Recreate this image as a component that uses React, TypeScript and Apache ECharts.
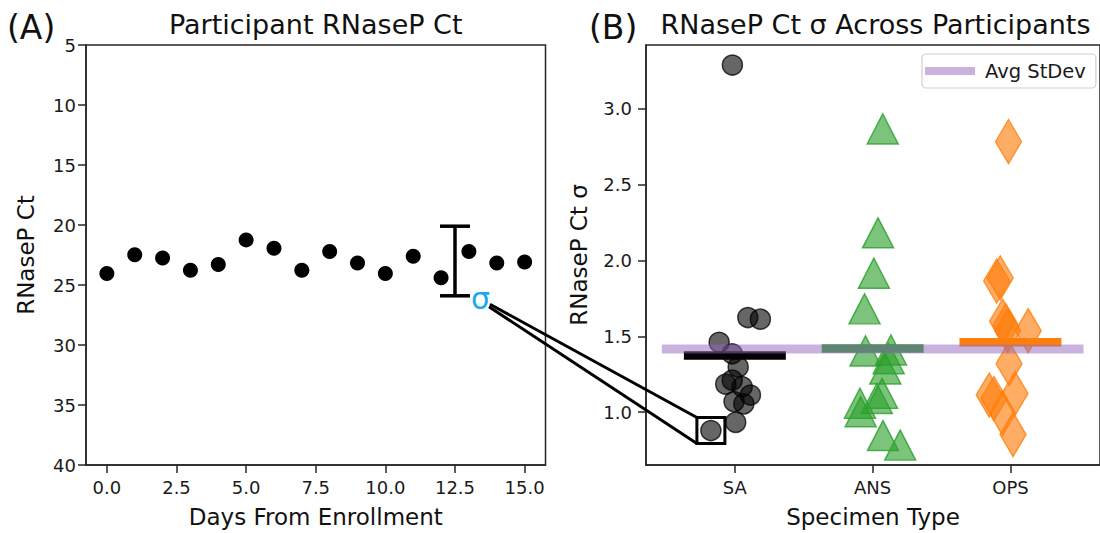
import React, { useEffect, useRef } from 'react';
import * as echarts from 'echarts';

// (A) one participant's RNaseP Ct over time
const days = [0, 1, 2, 3, 4, 5, 6, 7, 8, 9, 10, 11, 12, 13, 14, 15];
const rnasepCt = [24.05, 22.48, 22.75, 23.77, 23.3, 21.24, 21.93, 23.77, 22.2, 23.17, 24.05, 22.6, 24.4, 22.2, 23.17, 23.08];
const dayTicks = [0, 2.5, 5, 7.5, 10, 12.5, 15];
const errorBar = [12.5, 20.1, 25.9]; // day, low, high

// (B) per-participant σ by specimen type (x offsets are the jitter)
const specimenTypes = ['SA', 'ANS', 'OPS'];
const saOffsets = [-0.018, 0.094, 0.185, -0.114, -0.019, 0.024, -0.066, -0.019, 0.053, 0.113, -0.006, 0.065, 0.006, -0.174];
const saSigma = [3.288, 1.624, 1.613, 1.461, 1.385, 1.298, 1.185, 1.211, 1.168, 1.113, 1.07, 1.055, 0.933, 0.879];
const ansOffsets = [0.073, 0.039, 0.009, -0.059, -0.052, 0.133, 0.116, 0.092, 0.068, 0.03, -0.092, -0.087, 0.075, 0.2];
const ansSigma = [2.867, 2.182, 1.916, 1.681, 1.404, 1.41, 1.352, 1.285, 1.124, 1.09, 1.059, 1.003, 0.846, 0.783];
const opsOffsets = [-0.014, -0.1, -0.074, -0.057, -0.034, -0.02, 0.129, -0.01, -0.154, -0.12, 0.033, -0.057, 0.019];
const opsSigma = [2.783, 1.864, 1.885, 1.6, 1.57, 1.537, 1.537, 1.32, 1.113, 1.09, 1.124, 0.993, 0.853];
const specimenMeans = [1.373, 1.42, 1.461];
const avgStDev = 1.417;
const sigmaTicks = [1.0, 1.5, 2.0, 2.5, 3.0];
const highlightIndex = 13; // SA participant shown in (A)

const FONT = 'DejaVu Sans';
const AXIS = '#262626';
const LABEL = '#1a1a1a';

const App: React.FC = () => {
  const chartRef = useRef<HTMLDivElement>(null);

  useEffect(() => {
    if (!chartRef.current) return;
    document.body.style.margin = '0';
    const chart = echarts.init(chartRef.current, undefined, { renderer: 'svg' });

    const axisCommon = (gridIndex: number) => ({
      gridIndex,
      type: 'value',
      splitLine: { show: false },
      axisLine: { show: true, onZero: false, lineStyle: { color: AXIS, width: 1.5 } },
      axisTick: { show: true, length: 8, lineStyle: { color: AXIS, width: 1.5 } },
      nameLocation: 'middle',
      nameTextStyle: { fontSize: 23, color: '#111', fontFamily: FONT },
    });

    const jitter = (offsets: number[], values: number[], cat: number) =>
      values.map((v, i) => [cat + offsets[i], v]);

    const meanColors = ['#000000', '#2ca02c', '#ff7f0e'];
    const halfWidth = 0.37;

    const option: any = {
      animation: false,
      textStyle: { fontFamily: FONT },
      grid: [
        { left: 86, top: 45, width: 459.5, height: 424, show: true, borderColor: AXIS, borderWidth: 1.5 },
        { left: 646, top: 45, width: 459, height: 424, show: true, borderColor: AXIS, borderWidth: 1.5 },
      ],
      xAxis: [
        {
          ...axisCommon(0),
          min: -0.75,
          max: 15.75,
          name: 'Days From Enrollment',
          nameGap: 40,
          axisTick: { show: true, length: 8, customValues: dayTicks, lineStyle: { color: AXIS, width: 1.5 } },
          axisLabel: { customValues: dayTicks, formatter: (v: number) => v.toFixed(1), fontSize: 18, color: LABEL, margin: 13 },
        },
        {
          ...axisCommon(1),
          min: -0.645,
          max: 2.65,
          name: 'Specimen Type',
          nameGap: 40,
          axisTick: { show: true, length: 8, customValues: [0, 1, 2], lineStyle: { color: AXIS, width: 1.5 } },
          axisLabel: {
            customValues: [0, 1, 2],
            formatter: (v: number) => specimenTypes[Math.round(v)],
            fontSize: 18,
            color: LABEL,
            margin: 13,
          },
        },
      ],
      yAxis: [
        {
          ...axisCommon(0),
          min: 5,
          max: 40,
          interval: 5,
          inverse: true,
          name: 'RNaseP Ct',
          nameGap: 49,
          axisLabel: { fontSize: 18, color: LABEL, margin: 10 },
        },
        {
          ...axisCommon(1),
          min: 0.652,
          max: 3.42,
          name: 'RNaseP Ct σ',
          nameGap: 56,
          axisTick: { show: true, length: 8, customValues: sigmaTicks, lineStyle: { color: AXIS, width: 1.5 } },
          axisLabel: { customValues: sigmaTicks, formatter: (v: number) => v.toFixed(1), fontSize: 18, color: LABEL, margin: 14 },
        },
      ],
      legend: {
        data: ['Avg StDev'],
        left: 922,
        top: 54,
        icon: 'rect',
        itemWidth: 50,
        itemHeight: 8,
        padding: [7, 10, 7, 3],
        borderColor: '#d0d0d0',
        borderWidth: 1.2,
        borderRadius: 4,
        backgroundColor: 'rgba(255,255,255,0.8)',
        textStyle: { fontSize: 19.5, color: LABEL, fontFamily: FONT, padding: [0, 0, 0, 5] },
      },
      series: [
        {
          type: 'scatter',
          xAxisIndex: 0,
          yAxisIndex: 0,
          data: days.map((d, i) => [d, rnasepCt[i]]),
          symbolSize: 15,
          itemStyle: { color: '#000', opacity: 1 },
        },
        {
          type: 'custom',
          xAxisIndex: 0,
          yAxisIndex: 0,
          data: [errorBar],
          encode: { x: 0, y: [1, 2] },
          renderItem: (params: any, api: any) => {
            const x = api.value(0);
            const top = api.coord([x, api.value(1)]);
            const bot = api.coord([x, api.value(2)]);
            const style = { stroke: '#000', lineWidth: 3.5 };
            return {
              type: 'group',
              children: [
                { type: 'line', shape: { x1: top[0], y1: top[1], x2: bot[0], y2: bot[1] }, style },
                { type: 'line', shape: { x1: top[0] - 15, y1: top[1], x2: top[0] + 15, y2: top[1] }, style },
                { type: 'line', shape: { x1: bot[0] - 15, y1: bot[1], x2: bot[0] + 15, y2: bot[1] }, style },
              ],
            };
          },
        },
        {
          type: 'scatter',
          xAxisIndex: 1,
          yAxisIndex: 1,
          z: 2,
          data: jitter(saOffsets, saSigma, 0),
          symbol: 'circle',
          symbolSize: 20,
          itemStyle: { color: 'rgba(0,0,0,0.6)', borderColor: 'rgba(0,0,0,0.75)', borderWidth: 1.5, opacity: 1 },
        },
        {
          type: 'scatter',
          xAxisIndex: 1,
          yAxisIndex: 1,
          z: 2,
          data: jitter(ansOffsets, ansSigma, 1),
          symbol: 'triangle',
          symbolSize: [31, 30],
          itemStyle: { color: 'rgba(44,160,44,0.62)', borderColor: 'rgba(44,160,44,0.8)', borderWidth: 1.5, opacity: 1 },
        },
        {
          type: 'scatter',
          xAxisIndex: 1,
          yAxisIndex: 1,
          z: 2,
          data: jitter(opsOffsets, opsSigma, 2),
          symbol: 'diamond',
          symbolSize: [26, 44],
          itemStyle: { color: 'rgba(255,127,14,0.64)', borderColor: 'rgba(255,127,14,0.8)', borderWidth: 1.5, opacity: 1 },
        },
        ...specimenTypes.map((name, i) => ({
          type: 'line',
          name: name + ' mean',
          xAxisIndex: 1,
          yAxisIndex: 1,
          z: 3,
          silent: true,
          symbol: 'none',
          data: [
            [i - halfWidth, specimenMeans[i]],
            [i + halfWidth, specimenMeans[i]],
          ],
          lineStyle: { color: meanColors[i], width: 8.5, cap: 'butt' },
        })),
        {
          type: 'line',
          name: 'Avg StDev',
          xAxisIndex: 1,
          yAxisIndex: 1,
          z: 5,
          silent: true,
          symbol: 'none',
          data: [
            [-0.53, avgStDev],
            [2.53, avgStDev],
          ],
          itemStyle: { color: 'rgba(148,103,189,0.5)' },
          lineStyle: { color: 'rgba(148,103,189,0.5)', width: 9, cap: 'butt' },
        },
      ],
    };

    chart.setOption(option);

    // annotations placed from the axes' own scales
    const errBot = chart.convertToPixel({ gridIndex: 0 }, [errorBar[0], errorBar[2]]) as number[];
    const sx = errBot[0] + 16;
    const sy = errBot[1] + 2.5;
    const hp = chart.convertToPixel({ gridIndex: 1 }, [saOffsets[highlightIndex], saSigma[highlightIndex]]) as number[];
    const box = { x: hp[0] - 14, y: hp[1] - 13, width: 28, height: 26 };
    const leftCenter = 86 + 459.5 / 2;
    const rightCenter = 646 + 459 / 2;

    chart.setOption({
      graphic: [
        { type: 'text', x: 7, y: 27.5, style: { text: '(A)', font: `33px "${FONT}"`, fill: '#111', textVerticalAlign: 'middle' } },
        { type: 'text', x: 589, y: 27.5, style: { text: '(B)', font: `33px "${FONT}"`, fill: '#111', textVerticalAlign: 'middle' } },
        {
          type: 'text',
          x: leftCenter,
          y: 24.5,
          style: { text: 'Participant RNaseP Ct', font: `27px "${FONT}"`, fill: '#111', textAlign: 'center', textVerticalAlign: 'middle' },
        },
        {
          type: 'text',
          x: rightCenter,
          y: 24.5,
          style: { text: 'RNaseP Ct σ Across Participants', font: `27px "${FONT}"`, fill: '#111', textAlign: 'center', textVerticalAlign: 'middle' },
        },
        {
          type: 'text',
          x: sx,
          y: sy,
          z: 10,
          style: { text: 'σ', font: `30px "${FONT}"`, fill: '#1ba8ec', textVerticalAlign: 'middle' },
        },
        {
          type: 'line',
          z: 10,
          shape: { x1: sx + 19, y1: sy + 6, x2: box.x, y2: box.y },
          style: { stroke: '#000', lineWidth: 3 },
        },
        {
          type: 'line',
          z: 10,
          shape: { x1: sx + 18, y1: sy + 8.5, x2: box.x, y2: box.y + box.height },
          style: { stroke: '#000', lineWidth: 3 },
        },
        {
          type: 'rect',
          z: 10,
          shape: box,
          style: { fill: 'none', stroke: '#000', lineWidth: 3 },
        },
      ],
    });

    return () => {
      chart.dispose();
    };
  }, []);

  return <div ref={chartRef} style={{ width: 1100, height: 533 }} />;
};

export default App;
